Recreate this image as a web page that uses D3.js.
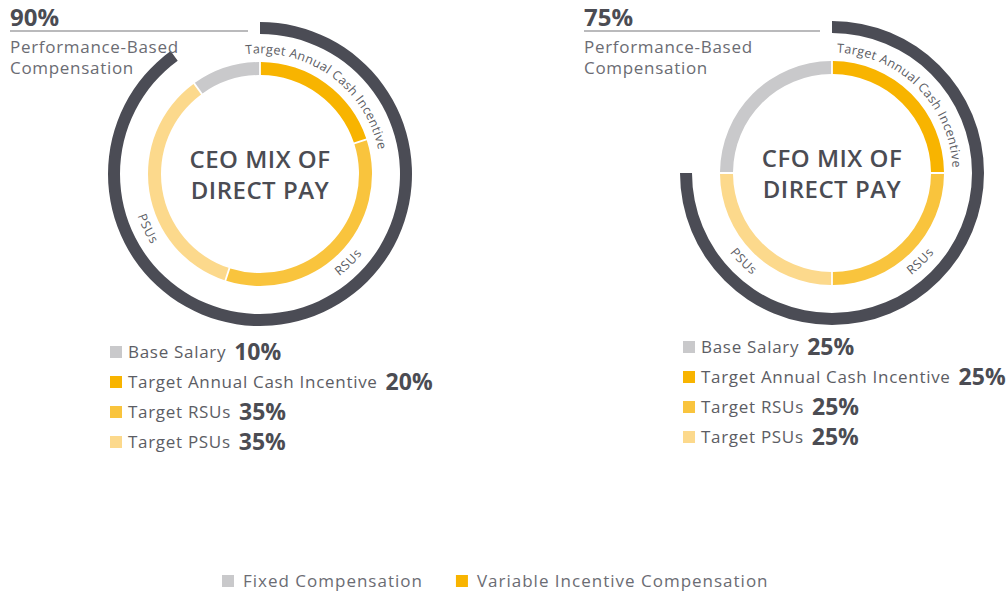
<!DOCTYPE html>
<html>
<head>
<meta charset="utf-8">
<script src="https://d3js.org/d3.v7.min.js"></script>
<style>
  body { margin: 0; background: #fff; }
  text { font-family: "Open Sans", sans-serif; }
</style>
</head>
<body>
<div id="chart"></div>
<script>

// data
var categories = ["Base Salary", "Target Annual Cash Incentive", "Target RSUs", "Target PSUs"];
var ringLabels = ["", "Target Annual Cash Incentive", "RSUs", "PSUs"];
var ceoValues = [10, 20, 35, 35];
var cfoValues = [25, 25, 25, 25];
var perfBased = [90, 75];
var titles = [["CEO MIX OF", "DIRECT PAY"], ["CFO MIX OF", "DIRECT PAY"]];
var headerText = ["Performance-Based", "Compensation"];
var bottomLegend = ["Fixed Compensation", "Variable Incentive Compensation"];

var colors = ["#c9c9cb", "#f8b400", "#f9c43d", "#fcd98c"];
var darkArc = "#4b4c55";

var width = 1007, height = 594;

var svg = d3.select("#chart")
  .append("svg")
    .attr("width", width)
    .attr("height", height);

// layout of the two panels
var panels = [
  { values: ceoValues, cx: 260, cy: 174, headX: 10, legX: 110, legY: 352, psuNudge: -17 },
  { values: cfoValues, cx: 832, cy: 173, headX: 584, legX: 683, legY: 347, psuNudge: 0 }
];

var angle = d3.scaleLinear().domain([0, 100]).range([0, 2 * Math.PI]);

var ring = d3.arc().innerRadius(99).outerRadius(112).padAngle(0.012);
var outer = d3.arc().innerRadius(140).outerRadius(152);

function pt(cx, cy, r, a) {
  return [cx + r * Math.sin(a), cy - r * Math.cos(a)];
}

panels.forEach(function(p, i) {
  var total = d3.sum(p.values);
  var pie = d3.pie().sort(null).value(function(d){ return d; })
    .startAngle(-angle(p.values[0] / total * 100))
    .endAngle(2 * Math.PI - angle(p.values[0] / total * 100));
  var arcs = pie(p.values);

  var g = svg.append("g").attr("transform", "translate(" + p.cx + "," + p.cy + ")");

  // outer performance arc
  g.append("path")
    .attr("d", outer({ startAngle: 0, endAngle: angle(perfBased[i]) }))
    .attr("fill", darkArc);

  // inner ring
  g.selectAll(".seg")
    .data(arcs)
    .enter()
    .append("path")
      .attr("class", "seg")
      .attr("d", ring)
      .attr("fill", function(d, j){ return colors[j]; });

  // curved labels
  arcs.forEach(function(d, j) {
    if (!ringLabels[j]) return;
    var mid = (d.startAngle + d.endAngle) / 2;
    if (j == 3) mid += p.psuNudge * Math.PI / 180;
    var r = 125, id = "lp" + i + "_" + j, path;
    var deg = mid * 180 / Math.PI;
    if (deg > 90 && deg < 270) {
      var s = pt(0, 0, r, mid + Math.PI / 2), e = pt(0, 0, r, mid - Math.PI / 2);
      path = "M" + s + "A" + r + "," + r + " 0 0,0 " + e;
    } else {
      var s = pt(0, 0, r, mid - Math.PI / 2), e = pt(0, 0, r, mid + Math.PI / 2);
      path = "M" + s + "A" + r + "," + r + " 0 0,1 " + e;
    }
    g.append("path").attr("id", id).attr("d", path).attr("fill", "none");
    g.append("text")
      .attr("dy", "0.35em")
      .style("font-size", "12.5px")
      .style("letter-spacing", "0.6px")
      .attr("fill", "#5c5d64")
      .append("textPath")
        .attr("href", "#" + id)
        .attr("startOffset", "50%")
        .attr("text-anchor", "middle")
        .text(ringLabels[j]);
  });

  // center title
  g.selectAll(".title")
    .data(titles[i])
    .enter()
    .append("text")
      .attr("text-anchor", "middle")
      .attr("y", function(d, k){ return -6 + k * 31; })
      .attr("fill", "#4b4c53")
      .style("font-size", "24px")
      .style("font-weight", "600")
      .style("letter-spacing", "0.5px")
      .text(function(d){ return d; });

  // header
  svg.append("text")
    .attr("x", p.headX).attr("y", 26)
    .attr("fill", "#4b4c53")
    .style("font-size", "24px").style("font-weight", "bold")
    .text(perfBased[i] + "%");
  svg.append("line")
    .attr("x1", p.headX).attr("x2", p.cx - 12)
    .attr("y1", 31).attr("y2", 31)
    .attr("stroke", "#a3a3a6").attr("stroke-width", 1.5);
  headerText.forEach(function(t, k) {
    svg.append("text")
      .attr("x", p.headX).attr("y", 53 + k * 21)
      .attr("fill", "#6b6c73")
      .style("font-size", "17px")
      .style("letter-spacing", "0.7px")
      .text(t);
  });

  // legend
  categories.forEach(function(c, k) {
    var y = p.legY + k * 30;
    svg.append("rect")
      .attr("x", p.legX).attr("y", y - 6)
      .attr("width", 12).attr("height", 12)
      .attr("fill", colors[k]);
    var lab = svg.append("text")
      .attr("x", p.legX + 18).attr("y", y + 6)
      .attr("fill", "#5c5d64")
      .style("font-size", "17px")
      .style("letter-spacing", "0.7px")
      .text(c);
    var w = lab.node().getComputedTextLength();
    svg.append("text")
      .attr("x", p.legX + 18 + w + 8).attr("y", y + 8)
      .attr("fill", "#4b4c53")
      .style("font-size", "23px").style("font-weight", "bold")
      .text(p.values[k] + "%");
  });
});

// bottom legend
var bx = 222;
bottomLegend.forEach(function(t, k) {
  svg.append("rect")
    .attr("x", bx).attr("y", 575)
    .attr("width", 12).attr("height", 12)
    .attr("fill", colors[k]);
  var lab = svg.append("text")
    .attr("x", bx + 21).attr("y", 587)
    .attr("fill", "#6b6c73")
    .style("font-size", "17px")
    .style("letter-spacing", "1px")
    .text(t);
  bx += 21 + lab.node().getComputedTextLength() + 33;
});

</script>
</body>
</html>
